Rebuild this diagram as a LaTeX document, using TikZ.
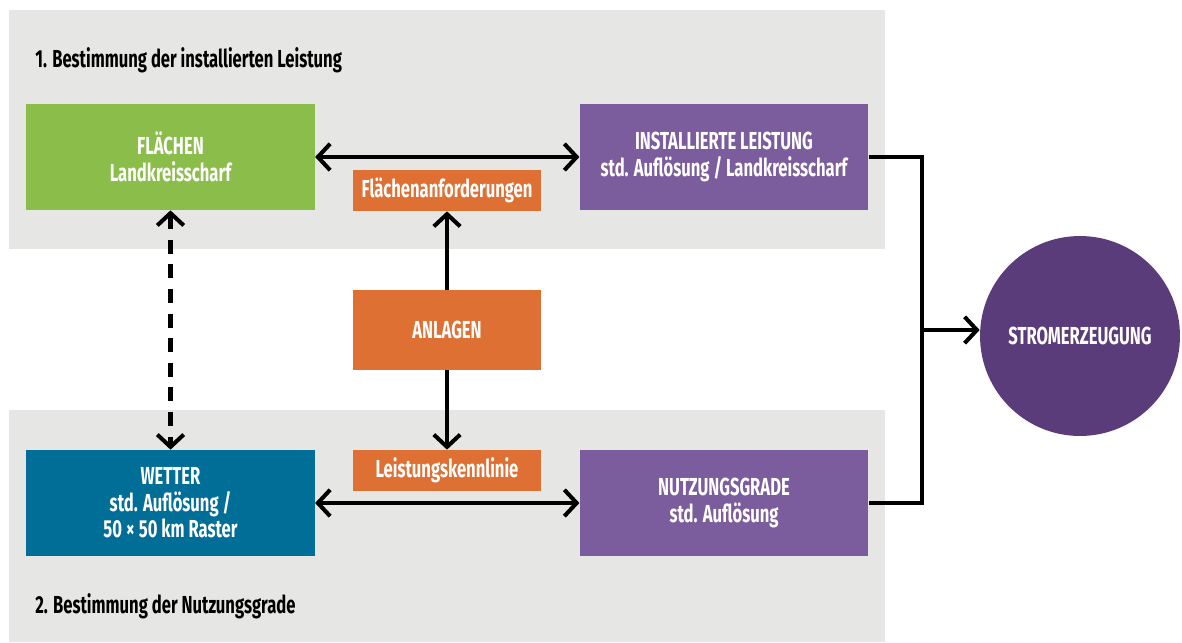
\documentclass[tikz,border=0pt]{standalone}
\usepackage{fontspec}
\usepackage{tikz}
\usetikzlibrary{arrows.meta}
\setmainfont{Fira Sans}[FakeStretch=0.675]

\definecolor{panelgray}{HTML}{E6E6E5}
\definecolor{flgreen}{HTML}{8BBD4B}
\definecolor{lilac}{HTML}{7B5C9C}
\definecolor{anlorange}{HTML}{DF7033}
\definecolor{wetblue}{HTML}{006E96}
\definecolor{darklilac}{HTML}{5B3C7B}

\begin{document}
\begin{tikzpicture}[x=0.02cm,y=-0.02cm,
  box/.style={fill=#1,text=white,align=center,inner sep=0pt,
    font=\bfseries\fontsize{14pt}{15pt}\selectfont},
  bigbox/.style={box=#1,minimum width=5.77cm,minimum height=2.12cm},
  smallbox/.style={box=anlorange,minimum width=3.77cm,minimum height=0.82cm},
  link/.style={line width=2.3pt,{Straight Barb[length=7pt,width=15pt]}-{Straight Barb[length=7pt,width=15pt]}},
  tip/.style={line width=2.3pt,-{Straight Barb[length=7pt,width=15pt]}},
  title/.style={anchor=west,inner sep=0pt,font=\bfseries\fontsize{14pt}{15pt}\selectfont}]

\useasboundingbox (0,0) rectangle (1182,642);

% panels
\fill[panelgray] (9,10) rectangle (885,249);
\fill[panelgray] (9,410) rectangle (885,642);
\node[title] (t1) at (35,60) {1. Bestimmung der installierten Leistung};
\node[title] (t2) at (35,606) {2. Bestimmung der Nutzungsgrade};

% boxes
\node[bigbox=flgreen] (flaechen) at (170.5,157) {FLÄCHEN\\Landkreisscharf};
\node[bigbox=lilac] (installiert) at (724,157) {INSTALLIERTE LEISTUNG\\std. Auflösung / Landkreisscharf};
\node[bigbox=wetblue] (wetter) at (170.5,503) {WETTER\\std. Auflösung /\\50\,×\,50 km Raster};
\node[bigbox=lilac] (nutzung) at (724,503) {NUTZUNGSGRADE\\std. Auflösung};
\node[smallbox] (anford) at (447,190.5) {Flächenanforderungen};
\node[smallbox,minimum height=1.6cm] (anlagen) at (447,330) {ANLAGEN};
\node[smallbox] (kennlinie) at (447,470.5) {Leistungskennlinie};
\node[circle,fill=darklilac,text=white,minimum size=4cm,inner sep=0pt,
  font=\bfseries\fontsize{14pt}{15pt}\selectfont] (strom) at (1080,336) {STROMERZEUGUNG};

% connectors
\draw[link] (flaechen.east) -- (installiert.west);
\draw[link] (wetter.east) -- (nutzung.west);
\draw[link,dash pattern=on 8pt off 6pt] (flaechen.south) -- (wetter.north);
\draw[tip] (anlagen.north) -- (anford.south);
\draw[tip] (anlagen.south) -- (kennlinie.north);

\coordinate (junc) at (922,330);
\draw[line width=2.3pt] (installiert.east) -- (922,157) -- (922,503) -- (nutzung.east);
\draw[tip] (junc) -- (junc -| strom.west);
\end{tikzpicture}
\end{document}
